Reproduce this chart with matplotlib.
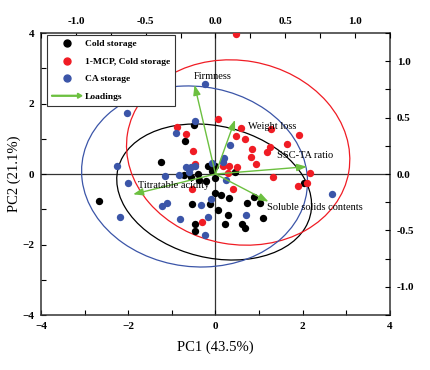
import numpy as np
import matplotlib
matplotlib.use('Agg')
import matplotlib.pyplot as plt
import matplotlib.patches as mpatches
from matplotlib.lines import Line2D
from matplotlib.legend_handler import HandlerPatch
from matplotlib.ticker import MultipleLocator

plt.rcParams['font.family'] = ['Liberation Serif', 'DejaVu Serif']

# PCA scores (PC1, PC2)
cold_x = [-0.49, -0.71, -1.25, -0.18, -0.73, -0.41, -0.56, -0.37, -0.02, 0.44, -2.68, -0.53,
          -0.12, 0.0, 0.13, 0.32, 0.05, 0.28, 0.22, 0.60, 0.68, 0.73, 0.89, 1.01, 1.08,
          -0.46, -0.46, 2.02, -0.21, -0.02, -0.07]
cold_y = [1.38, 0.94, 0.33, 0.23, -0.02, 0.0, -0.09, -0.17, 0.23, 0.06, -0.77, -0.85,
          -0.85, -0.55, -0.60, -0.69, -1.01, -1.16, -1.42, -1.42, -1.53, -0.81, -0.66, -0.83, -1.26,
          -1.43, -1.61, -0.26, -0.20, -0.10, 0.09]

mcp_x = [0.48, -1.67, -0.89, -0.67, -0.52, -0.47, 0.05, 0.59, 0.67, 0.47, 0.84, 0.82, 0.92,
         0.18, 0.32, 0.49, 1.28, 1.26, 1.19, 1.63, 1.91, 1.31, 2.16, 0.29, 1.89, 2.10, 0.40,
         -0.32, -0.53]
mcp_y = [3.97, 2.31, 1.32, 1.14, 0.65, 0.28, 1.55, 1.31, 0.99, 1.08, 0.72, 0.47, 0.27,
         0.23, 0.24, 0.21, 1.27, 0.76, 0.63, 0.85, 1.11, -0.09, 0.04, 0.04, -0.34, -0.26, -0.42,
         -1.35, -0.43]

ca_x = [-0.23, -2.03, -0.47, -0.90, -2.26, -0.67, -0.55, -0.46, -0.08, -1.16, -0.83, 0.19,
        0.34, 0.18, 0.25, -2.00, -2.19, -1.22, -1.11, -0.81, -0.33, -0.18, -0.24, -0.10,
        0.70, 2.66, -0.60]
ca_y = [2.56, 1.74, 1.49, 1.17, 0.23, 0.19, 0.21, 0.23, 0.32, -0.07, -0.02, 0.45,
        0.82, 0.34, -0.16, -0.26, -1.23, -0.90, -0.82, -1.28, -0.88, -1.21, -1.73, -0.70,
        -1.16, -0.58, 0.06]

# confidence ellipses: center x, center y, width, height, angle
ell_cold = (-0.03, -0.51, 4.64, 3.65, -26)
ell_mcp = (0.52, 0.61, 5.39, 4.98, -55)
ell_ca = (-0.48, -0.07, 5.31, 5.00, -41)

# loadings
load_names = ['Firmness', 'Weight loss', 'SSC-TA ratio', 'Soluble solids contents', 'Titratable acidity']
load_x = [-0.15, 0.14, 0.655, 0.38, -0.59]
load_y = [0.79, 0.48, 0.065, -0.245, -0.18]
lab_x = [-0.157, 0.23, 0.443, 0.372, -0.553]
lab_y = [0.867, 0.42, 0.168, -0.298, -0.103]

c_black = 'black'
c_red = '#f01c24'
c_blue = '#3b55a8'
c_green = '#6cc040'

fig = plt.figure(figsize=(4.31, 3.70), dpi=100)
pos = [0.0951, 0.1486, 0.8097, 0.7622]
ax = fig.add_axes(pos)

ax.axhline(0, color='#333333', lw=0.9, zorder=1)
ax.axvline(0, color='#333333', lw=0.9, zorder=1)

ax.scatter(cold_x, cold_y, s=28, color=c_black, zorder=3, linewidths=0)
ax.scatter(mcp_x, mcp_y, s=28, color=c_red, zorder=3, linewidths=0)
ax.scatter(ca_x, ca_y, s=28, color=c_blue, zorder=3, linewidths=0)

for e, c in [(ell_cold, c_black), (ell_mcp, c_red), (ell_ca, c_blue)]:
    ax.add_patch(mpatches.Ellipse((e[0], e[1]), e[2], e[3], angle=e[4], fill=False,
                                  edgecolor=c, lw=0.9, zorder=2))

ax.set_xlim(-4, 4)
ax.set_ylim(-4, 4)
ax.set_xticks([-4, -2, 0, 2, 4])
ax.set_yticks([-4, -2, 0, 2, 4])
ax.xaxis.set_minor_locator(MultipleLocator(1))
ax.yaxis.set_minor_locator(MultipleLocator(1))
ax.tick_params(which='both', direction='in', length=3.5, width=0.8, labelsize=8, pad=5)
for lab in ax.get_xticklabels() + ax.get_yticklabels():
    lab.set_fontweight('bold')
ax.set_xlabel('PC1 (43.5%)', fontsize=10.5, labelpad=7)
ax.set_ylabel('PC2 (21.1%)', fontsize=10.5, labelpad=1)
for s in ax.spines.values():
    s.set_color('#333333')
    s.set_linewidth(1.1)

# loadings axes (top / right)
ax2 = fig.add_axes(pos, frameon=False)
ax2.set_xlim(-1.25, 1.25)
ax2.set_ylim(-1.25, 1.25)
ax2.xaxis.tick_top()
ax2.yaxis.tick_right()
ax2.set_xticks([-1.0, -0.5, 0.0, 0.5, 1.0])
ax2.set_yticks([-1.0, -0.5, 0.0, 0.5, 1.0])
ax2.set_xticklabels(['-1.0', '-0.5', '0.0', '0.5', '1.0'])
ax2.set_yticklabels(['-1.0', '-0.5', '0.0', '0.5', '1.0'])
ax2.xaxis.set_minor_locator(MultipleLocator(0.25))
ax2.yaxis.set_minor_locator(MultipleLocator(0.25))
ax2.tick_params(which='both', direction='in', length=3.5, width=0.8, labelsize=8, pad=5)
for lab in ax2.get_xticklabels() + ax2.get_yticklabels():
    lab.set_fontweight('bold')

for i in range(len(load_names)):
    ax2.annotate('', xy=(load_x[i], load_y[i]), xytext=(0, 0),
                 arrowprops=dict(arrowstyle='-|>,head_length=0.6,head_width=0.22',
                                 color=c_green, lw=1.0, shrinkA=0, shrinkB=0), zorder=4)
    ax2.text(lab_x[i], lab_y[i], load_names[i], fontsize=7.5, va='center', ha='left', zorder=5)


def make_arrow(legend, orig_handle, xdescent, ydescent, width, height, fontsize):
    return mpatches.FancyArrow(-xdescent, height / 2 - ydescent, width, 0, length_includes_head=True,
                               head_width=0.75 * height, head_length=0.65 * height, width=0.6,
                               color=c_green)


handles = [Line2D([], [], marker='o', ls='', color=c_black, ms=5),
           Line2D([], [], marker='o', ls='', color=c_red, ms=5),
           Line2D([], [], marker='o', ls='', color=c_blue, ms=5),
           mpatches.FancyArrow(0, 0, 1, 0, color=c_green)]
labels = ['Cold storage', '1-MCP, Cold storage', 'CA storage', 'Loadings']
leg = ax2.legend(handles, labels, loc='upper left', bbox_to_anchor=(0.017, 0.993),
                 prop={'size': 6.8, 'weight': 'bold'}, frameon=True, fancybox=False,
                 edgecolor='#333333', framealpha=1, handlelength=3.2, handletextpad=0.35,
                 labelspacing=0.95, borderpad=0.5, borderaxespad=0,
                 handler_map={mpatches.FancyArrow: HandlerPatch(patch_func=make_arrow)})
leg.get_frame().set_linewidth(0.8)

fig.savefig('out.png', dpi=100)
